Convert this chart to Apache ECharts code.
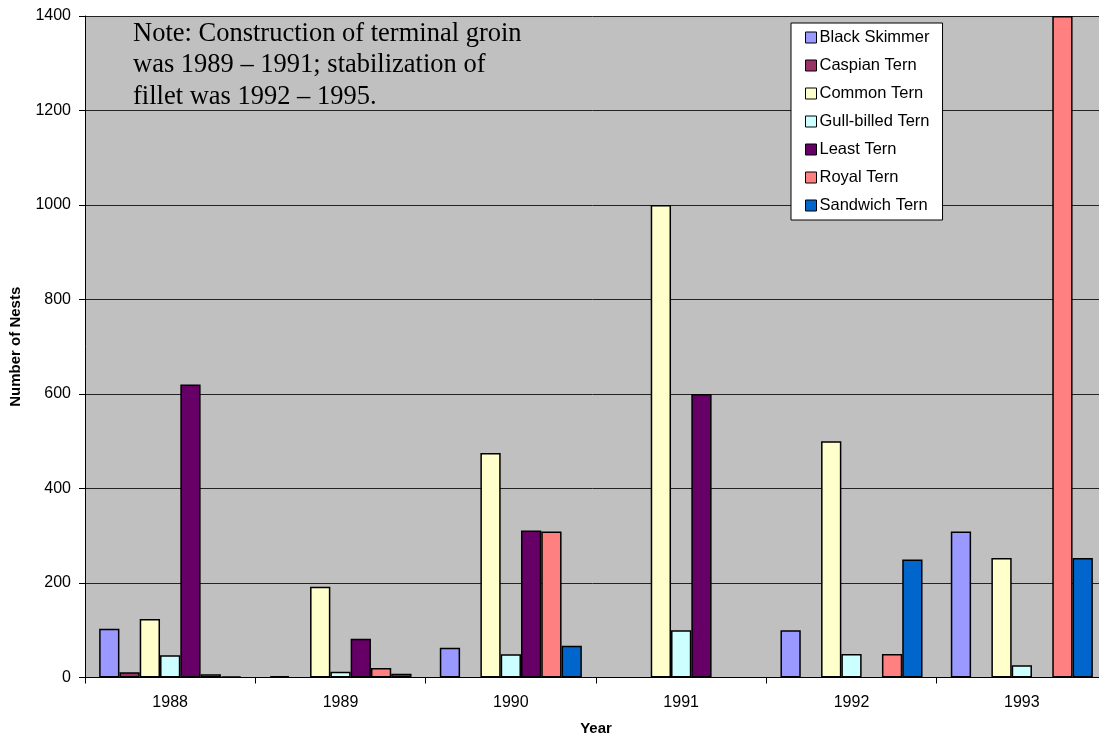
<!DOCTYPE html>
<html>
<head>
<meta charset="utf-8">
<script src="https://cdn.jsdelivr.net/npm/echarts@6/dist/echarts.min.js"></script>
<style>html,body{margin:0;padding:0;background:#fff;}#c{width:1099px;height:740px;}</style>
</head>
<body>
<div id="c"></div>
<script>
const years = ['1988','1989','1990','1991','1992','1993'];
const blackSkimmer = [103, 3, 63, 0, 100, 309];
const caspianTern = [11, 0, 0, 0, 0, 0];
const commonTern = [124, 192, 475, 1000, 500, 253];
const gullBilledTern = [47, 12, 49, 100, 50, 26];
const leastTern = [620, 82, 311, 600, 0, 0];
const royalTern = [7, 20, 309, 0, 50, 1400];
const sandwichTern = [2, 8, 67, 0, 250, 253];
const yTicks = {min: 0, max: 1400, interval: 200};

const seriesDefs = [
  ['Black Skimmer', blackSkimmer, '#9999FF'],
  ['Caspian Tern', caspianTern, '#993366'],
  ['Common Tern', commonTern, '#FFFFCC'],
  ['Gull-billed Tern', gullBilledTern, '#CCFFFF'],
  ['Least Tern', leastTern, '#660066'],
  ['Royal Tern', royalTern, '#FF8080'],
  ['Sandwich Tern', sandwichTern, '#0066CC']
];

const chart = echarts.init(document.getElementById('c'), null, {renderer: 'canvas'});
chart.setOption({
  animation: false,
  grid: {left: 85, top: 16, right: -8, bottom: 62.5, show: true, backgroundColor: '#C0C0C0', borderWidth: 0,
         containLabel: false, outerBoundsMode: 'none'},
  legend: {
    orient: 'vertical', left: 791, top: 23,
    backgroundColor: '#fff', borderColor: '#000', borderWidth: 1,
    padding: [6, 13, 6, 14],
    itemWidth: 11, itemHeight: 11, itemGap: 11,
    icon: 'rect',
    textStyle: {fontFamily: 'Liberation Sans, Arial', fontSize: 16.5, color: '#000', padding: [0, 0, 0, -2]},
    data: seriesDefs.map(d => ({name: d[0], itemStyle: {borderColor: '#000', borderWidth: 1}}))
  },
  graphic: [{
    type: 'text', left: 133, top: 18, z: 10,
    style: {
      text: 'Note: Construction of terminal groin\nwas 1989 \u2013 1991; stabilization of\nfillet was 1992 \u2013 1995.',
      font: '26.5px "Liberation Serif", "Times New Roman", serif',
      lineHeight: 31.5, fill: '#000'
    }
  }],
  xAxis: {
    type: 'category', data: years,
    name: 'Year', nameLocation: 'middle', nameGap: 44,
    nameTextStyle: {fontFamily: 'Liberation Sans, Arial', fontWeight: 'bold', fontSize: 15, color: '#000'},
    axisLine: {lineStyle: {color: '#000', width: 1}},
    axisTick: {show: true, alignWithLabel: false, length: 6, lineStyle: {color: '#000'}},
    axisLabel: {fontFamily: 'Liberation Sans, Arial', fontSize: 16, color: '#000', margin: 17}
  },
  yAxis: {
    type: 'value', min: yTicks.min, max: yTicks.max, interval: yTicks.interval,
    name: 'Number of Nests', nameLocation: 'middle', nameGap: 62, nameRotate: 90,
    nameTextStyle: {fontFamily: 'Liberation Sans, Arial', fontWeight: 'bold', fontSize: 15, color: '#000'},
    axisLine: {show: true, lineStyle: {color: '#000', width: 1}},
    axisTick: {show: true, length: 6, lineStyle: {color: '#000'}},
    axisLabel: {fontFamily: 'Liberation Sans, Arial', fontSize: 16, color: '#000', margin: 14,
                formatter: v => String(v)},
    splitLine: {show: true, lineStyle: {color: '#222', width: 1}}
  },
  series: seriesDefs.map(d => ({
    name: d[0], type: 'bar', data: d[1].map(v => (v === 0 ? null : v)),
    barGap: '0%', barCategoryGap: '16.6%',
    itemStyle: {color: d[2], borderColor: '#000', borderWidth: 1.5}
  }))
});
</script>
</body>
</html>
